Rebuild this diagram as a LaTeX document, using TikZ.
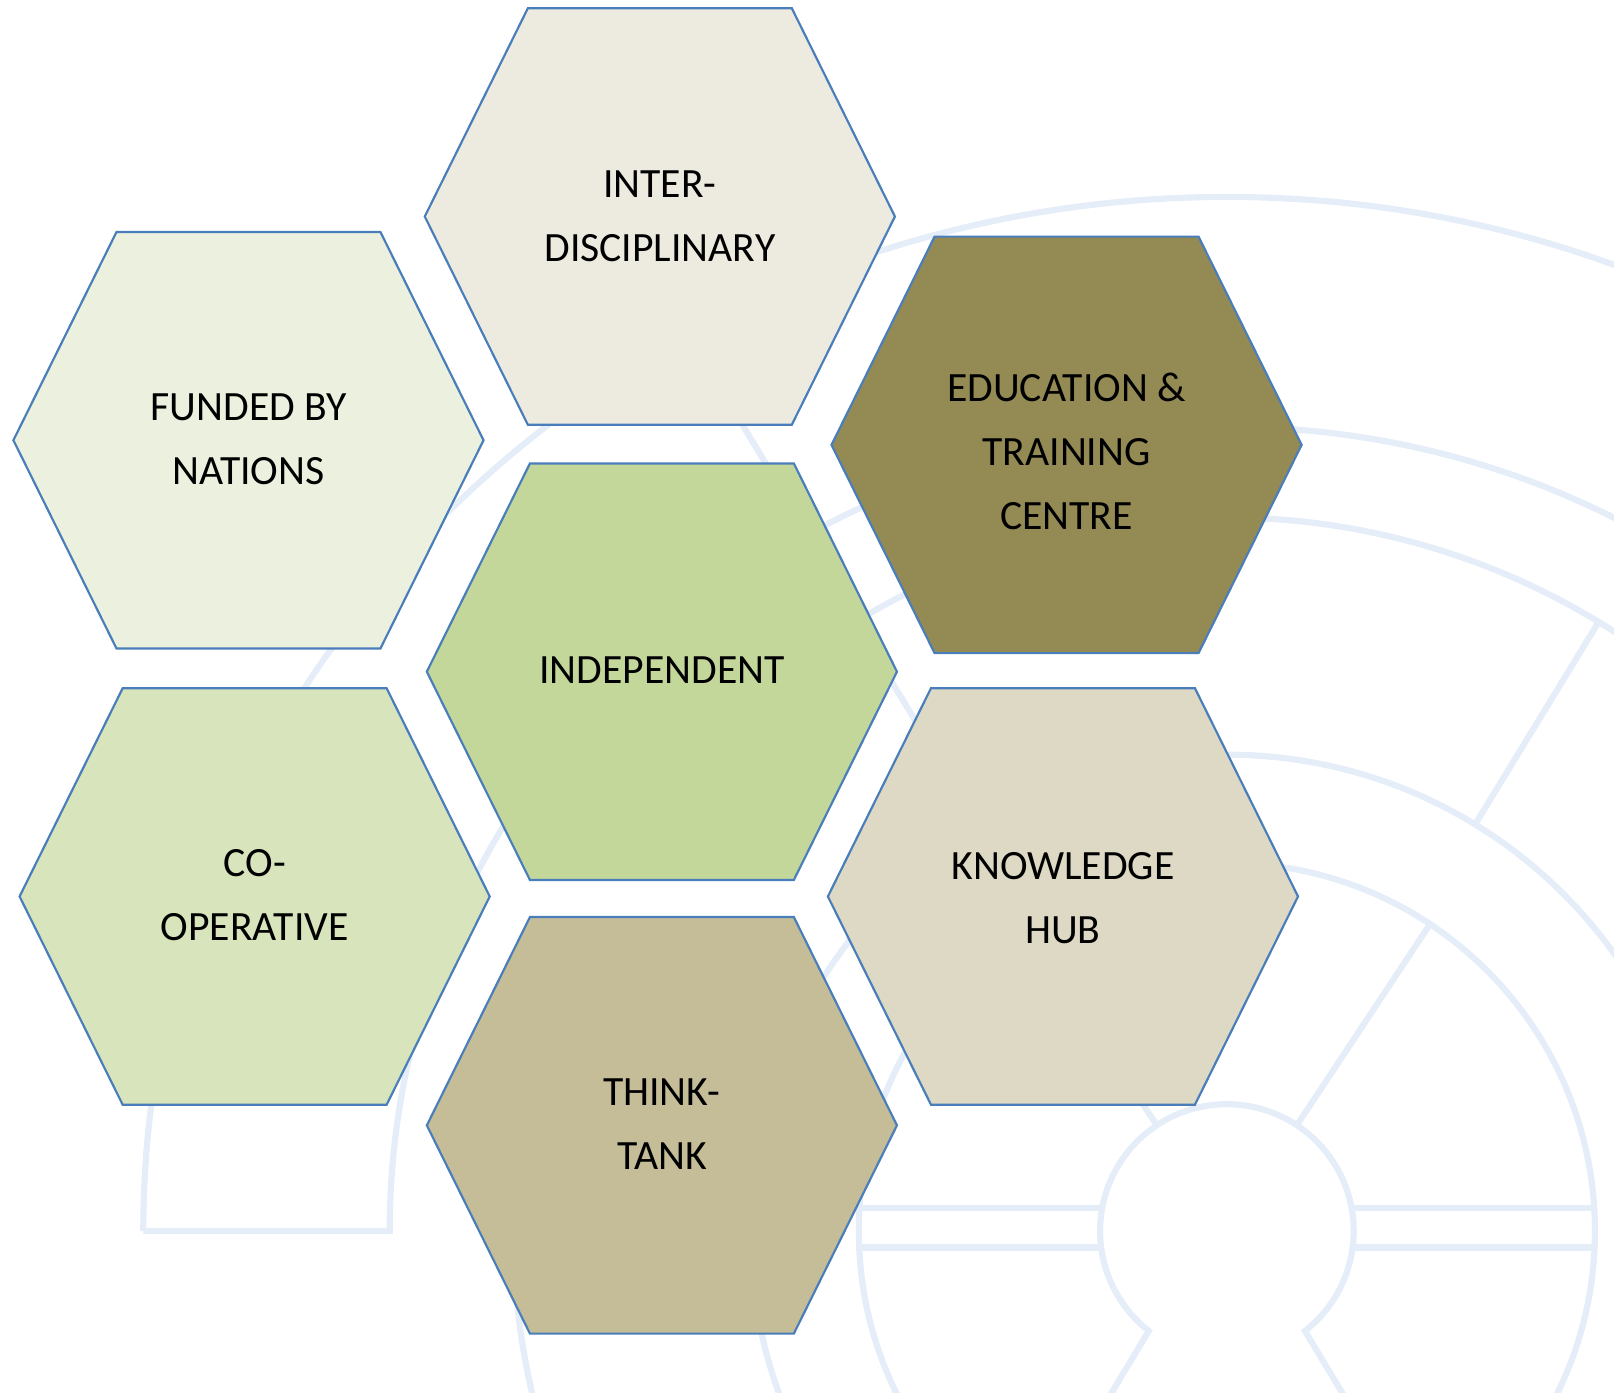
\documentclass[tikz,border=0pt]{standalone}
\usepackage{fontspec}
\setmainfont{Carlito}

\definecolor{cellblue}{HTML}{4A7EBB}
\definecolor{emblemblue}{HTML}{E4EDF8}
\definecolor{interfill}{HTML}{EDEBE0}
\definecolor{fundedfill}{HTML}{EBF1DE}
\definecolor{edufill}{HTML}{948A54}
\definecolor{indepfill}{HTML}{C4D79B}
\definecolor{coopfill}{HTML}{D8E4BC}
\definecolor{knowfill}{HTML}{DDD9C4}
\definecolor{thinkfill}{HTML}{C4BD97}

\begin{document}
\begin{tikzpicture}[
  cell/.style={draw=cellblue, line width=0.6pt},
  tag/.style={align=center, text=black, font=\fontsize{11.5}{17.6}\selectfont},
  emblem/.style={draw=emblemblue, line width=1.7pt},
  hexa/.pic={\path[pic actions] (-2.28,0) -- (-1.28,2.02) -- (1.28,2.02) -- (2.28,0) -- (1.28,-2.02) -- (-1.28,-2.02) -- cycle;}]
  \useasboundingbox (0,0) rectangle (15.655,-13.51);
  \begin{scope}
    \clip (0,0) rectangle (15.655,-13.51);
    \begin{scope}[shift={(11.90,-11.94)}]
      \draw[emblem] (-10.51,0) arc[start angle=180, end angle=0, x radius=10.51, y radius=10.03];
      \draw[emblem] (-10.51,0) -- (-8.12,0) arc[start angle=180, end angle=0, x radius=8.12, y radius=7.80];
      \draw[emblem] (121:7.86) -- (121:10.15);
      \draw[emblem] (30:6.92) arc[start angle=30, end angle=148, radius=6.92];
      \draw[emblem] (158:6.92) arc[start angle=158, end angle=200, radius=6.92];
      \draw[emblem] (0,0) circle[radius=4.62];
      \draw[emblem] (58.6:4.62) -- (58.6:6.92);
      \draw[emblem] (121.4:4.62) -- (121.4:6.92);
      \draw[emblem] (0,0) circle[radius=3.57];
      \draw[emblem] (56.5:1.23) -- (56.5:3.57);
      \draw[emblem] (123.5:1.23) -- (123.5:3.57);
      \draw[emblem] (-56:2.9) -- (-52:1.23) arc[start angle=-52, end angle=232, radius=1.23] -- (-124:2.9);
      \draw[emblem] (-3.56,0.22) -- (-1.21,0.22) (-3.56,-0.16) -- (-1.22,-0.16);
      \draw[emblem] (1.21,0.22) -- (3.56,0.22) (1.22,-0.16) -- (3.56,-0.16);
    \end{scope}
  \end{scope}
  \pic[cell, fill=interfill] at (6.40,-2.10) {hexa};
  \node[tag] (inter) at (6.40,-2.10) {INTER-\\DISCIPLINARY};
  \pic[cell, fill=fundedfill] at (2.41,-4.27) {hexa};
  \node[tag] (funded) at (2.41,-4.26) {FUNDED BY\\NATIONS};
  \pic[cell, fill=edufill] at (10.345,-4.315) {hexa};
  \node[tag] (edu) at (10.345,-4.38) {EDUCATION \&\\TRAINING\\CENTRE};
  \pic[cell, fill=indepfill] at (6.42,-6.515) {hexa};
  \node[tag] (indep) at (6.42,-6.50) {INDEPENDENT};
  \pic[cell, fill=coopfill] at (2.47,-8.695) {hexa};
  \node[tag] (coop) at (2.47,-8.68) {CO-\\OPERATIVE};
  \pic[cell, fill=knowfill] at (10.31,-8.695) {hexa};
  \node[tag] (know) at (10.31,-8.71) {KNOWLEDGE\\HUB};
  \pic[cell, fill=thinkfill] at (6.42,-10.915) {hexa};
  \node[tag] (think) at (6.42,-10.90) {THINK-\\TANK};
\end{tikzpicture}
\end{document}
